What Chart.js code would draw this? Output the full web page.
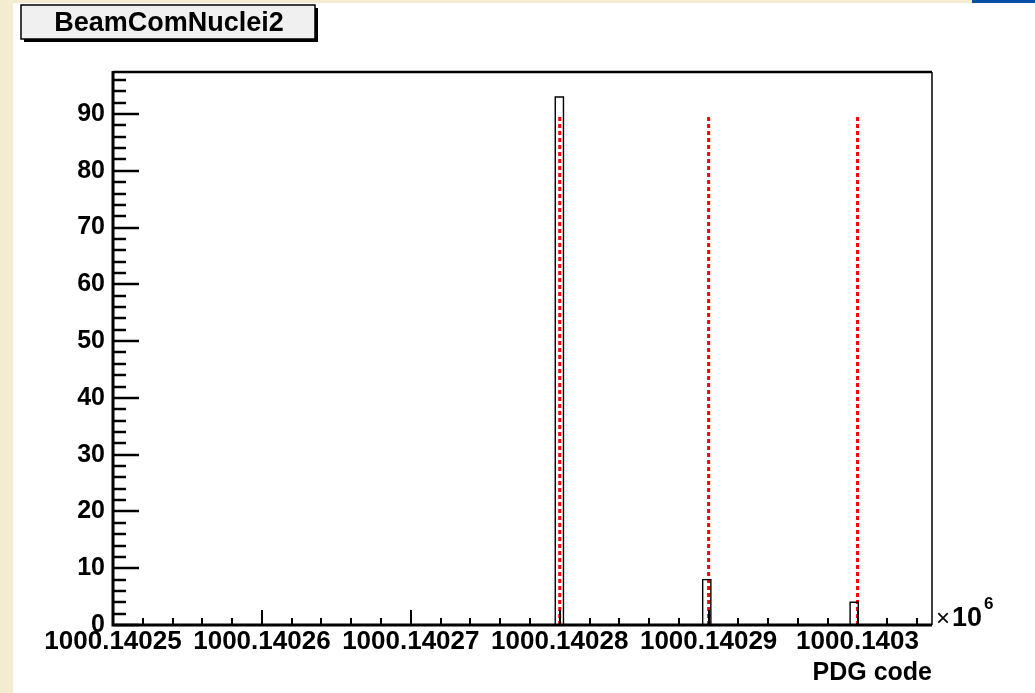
<!DOCTYPE html>
<html>
<head>
<meta charset="utf-8">
<script src="https://cdn.jsdelivr.net/npm/chart.js@4"></script>
<style>
  html, body { margin: 0; padding: 0; background: #f3ecd0; overflow: hidden; }
</style>
</head>
<body>
<canvas id="myChart" width="1035" height="693"></canvas>
<script>
const histTitle = 'BeamComNuclei2'
const xTitle = 'PDG code'

// x axis runs over PDG codes, drawn as offsets from xBase
const xBase = 1000140250
const xEnd = 1000140305
const xTickPdg = [1000140250, 1000140260, 1000140270, 1000140280, 1000140290, 1000140300]

// histogram bins (low edge, width) and their counts
const binWidth = 0.55
const binLow = [1000140279.70, 1000140289.60, 1000140299.50]
const binCounts = [93, 8, 4]

// red dashed marker lines
const markerPdg = [1000140280, 1000140290, 1000140300]
const markerTop = 90

const yTicks = [0, 10, 20, 30, 40, 50, 60, 70, 80, 90]
const yMax = 97.4

const FONT = '"Liberation Sans", Arial, sans-serif'

const histPoints = binLow.flatMap((lo, i) => {
    const x0 = lo - xBase
    const x1 = x0 + binWidth
    const c = binCounts[i]
    return [{x: x0, y: 0}, {x: x0, y: c}, {x: x1, y: c}, {x: x1, y: 0}]
})

const markerSets = markerPdg.map(p => ({
    label: 'marker ' + p,
    data: [{x: p - xBase, y: 0}, {x: p - xBase, y: markerTop}],
    showLine: true,
    borderColor: '#ff0000',
    borderWidth: 3,
    borderDash: [4, 3],
    pointRadius: 0
}))

// ROOT style frame, inward ticks, title box and exponent label
const rootFrame = {
    id: 'rootFrame',
    beforeDraw(chart) {
        const ctx = chart.ctx
        ctx.save()
        ctx.fillStyle = '#f3ecd0'
        ctx.fillRect(0, 0, chart.width, chart.height)
        ctx.fillStyle = '#ffffff'
        ctx.fillRect(13, 3, chart.width - 13, chart.height - 3)
        ctx.fillStyle = '#0a50a6'
        ctx.fillRect(972, 0, chart.width - 972, 3)

        // title box with shadow
        ctx.fillStyle = '#000'
        ctx.fillRect(24, 8, 294, 34)
        ctx.fillStyle = '#f0f0f0'
        ctx.fillRect(21, 5, 294, 34)
        ctx.lineWidth = 1.5
        ctx.strokeStyle = '#000'
        ctx.strokeRect(21, 5, 294, 34)
        ctx.fillStyle = '#000'
        ctx.font = 'bold 27px ' + FONT
        ctx.textAlign = 'center'
        ctx.textBaseline = 'middle'
        ctx.fillText(histTitle, 169, 24)
        ctx.restore()
    },
    afterDatasetsDraw(chart) {
        const ctx = chart.ctx
        const a = chart.chartArea
        const x = chart.scales.x
        const y = chart.scales.y
        ctx.save()
        ctx.strokeStyle = '#000'

        // y ticks, major every 10, minor every 2
        ctx.lineWidth = 2.5
        for (let v = 0; v <= yMax; v += 2) {
            const py = Math.round(y.getPixelForValue(v))
            const len = v % 10 === 0 ? 26 : 13
            ctx.beginPath()
            ctx.moveTo(a.left, py)
            ctx.lineTo(a.left + len, py)
            ctx.stroke()
        }

        // x ticks, major every 10, minor every 2
        ctx.lineWidth = 2
        for (let v = 0; v <= xEnd - xBase; v += 2) {
            const px = Math.round(x.getPixelForValue(v))
            const len = v % 10 === 0 ? 15 : 7
            ctx.beginPath()
            ctx.moveTo(px, a.bottom)
            ctx.lineTo(px, a.bottom - len)
            ctx.stroke()
        }

        // frame
        ctx.lineWidth = 2.5
        ctx.beginPath()
        ctx.moveTo(a.left, a.top)
        ctx.lineTo(a.right, a.top)
        ctx.stroke()
        ctx.lineWidth = 1.5
        ctx.beginPath()
        ctx.moveTo(a.right, a.top)
        ctx.lineTo(a.right, a.bottom)
        ctx.stroke()
        ctx.lineWidth = 3
        ctx.beginPath()
        ctx.moveTo(a.left, a.top - 1)
        ctx.lineTo(a.left, a.bottom)
        ctx.lineTo(a.right, a.bottom)
        ctx.stroke()

        // exponent of the x axis
        ctx.fillStyle = '#000'
        ctx.textAlign = 'left'
        ctx.textBaseline = 'alphabetic'
        ctx.font = '24px ' + FONT
        ctx.fillText('\u00d7', a.right + 4, a.bottom + 1)
        ctx.font = 'bold 27px ' + FONT
        ctx.fillText('10', a.right + 20, a.bottom + 1)
        ctx.font = 'bold 17px ' + FONT
        ctx.fillText('6', a.right + 52, a.bottom - 16)
        ctx.restore()
    }
}

const config = {
    type: 'scatter',
    data: {
        datasets: [{
            label: histTitle,
            data: histPoints,
            showLine: true,
            borderColor: '#000',
            borderWidth: 1.4,
            pointRadius: 0,
            fill: false
        }, ...markerSets]
    },
    options: {
        responsive: false,
        animation: false,
        events: [],
        layout: { padding: { left: 0, top: 72, right: 103, bottom: 0 } },
        plugins: {
            legend: { display: false },
            title: { display: false },
            tooltip: { enabled: false }
        },
        scales: {
            x: {
                type: 'linear',
                min: 0,
                max: xEnd - xBase,
                grid: { display: false, drawTicks: false },
                border: { display: false },
                afterBuildTicks: axis => {
                    axis.ticks = xTickPdg.map(p => ({ value: p - xBase }))
                },
                afterFit: axis => { axis.height = 68 },
                ticks: {
                    autoSkip: false,
                    maxRotation: 0,
                    minRotation: 0,
                    padding: 1,
                    color: '#000',
                    font: { family: FONT, size: 26, weight: 'bold' },
                    callback: v => String((v + xBase) / 1e6)
                },
                title: {
                    display: true,
                    text: xTitle,
                    align: 'end',
                    color: '#000',
                    font: { family: FONT, size: 25, weight: 'bold' },
                    padding: { top: 0, bottom: 5 }
                }
            },
            y: {
                type: 'linear',
                min: 0,
                max: yMax,
                grid: { display: false, drawTicks: false },
                border: { display: false },
                afterBuildTicks: axis => {
                    axis.ticks = yTicks.map(v => ({ value: v }))
                },
                afterFit: axis => { axis.width = 113 },
                ticks: {
                    padding: 8,
                    color: '#000',
                    font: { family: FONT, size: 25, weight: 'bold' }
                }
            }
        }
    },
    plugins: [rootFrame]
}

const myChart = new Chart(document.getElementById('myChart'), config)
</script>
</body>
</html>
